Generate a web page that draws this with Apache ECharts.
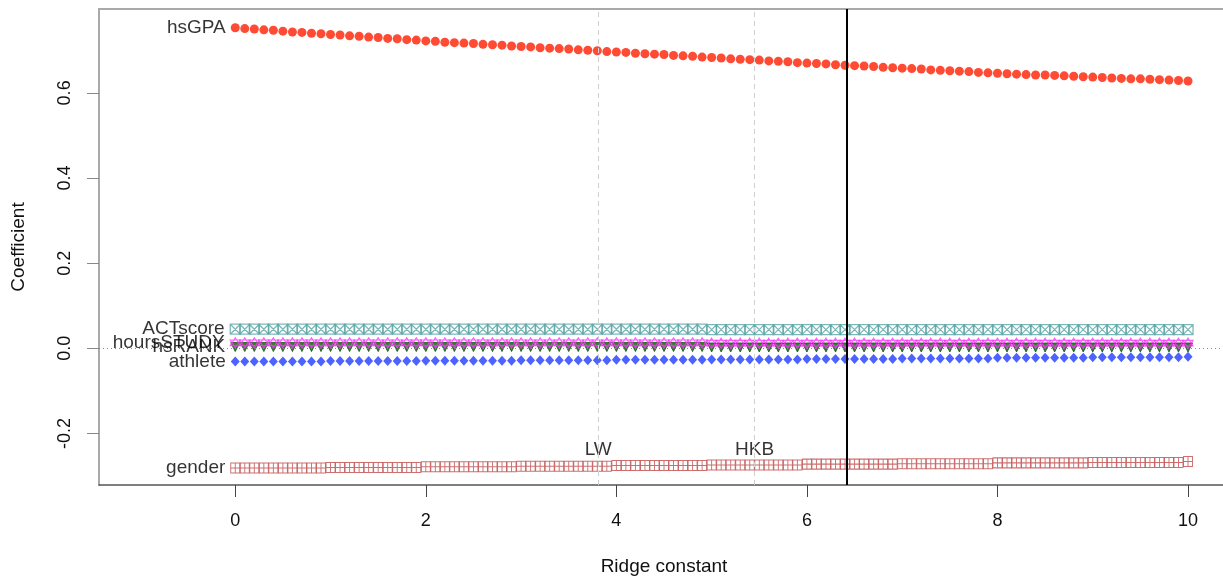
<!DOCTYPE html>
<html>
<head>
<meta charset="utf-8">
<script src="https://cdn.jsdelivr.net/npm/echarts@6/dist/echarts.min.js"></script>
<style>
  html, body { margin: 0; padding: 0; background: #ffffff; }
  #chart { width: 1223px; height: 577px; }
</style>
</head>
<body>
<div id="chart"></div>
<script>
// Ridge constants k = 0, 0.1, ..., 10
const ridgeK = [
  0, 0.1, 0.2, 0.3, 0.4, 0.5, 0.6, 0.7, 0.8, 0.9,
  1, 1.1, 1.2, 1.3, 1.4, 1.5, 1.6, 1.7, 1.8, 1.9,
  2, 2.1, 2.2, 2.3, 2.4, 2.5, 2.6, 2.7, 2.8, 2.9,
  3, 3.1, 3.2, 3.3, 3.4, 3.5, 3.6, 3.7, 3.8, 3.9,
  4, 4.1, 4.2, 4.3, 4.4, 4.5, 4.6, 4.7, 4.8, 4.9,
  5, 5.1, 5.2, 5.3, 5.4, 5.5, 5.6, 5.7, 5.8, 5.9,
  6, 6.1, 6.2, 6.3, 6.4, 6.5, 6.6, 6.7, 6.8, 6.9,
  7, 7.1, 7.2, 7.3, 7.4, 7.5, 7.6, 7.7, 7.8, 7.9,
  8, 8.1, 8.2, 8.3, 8.4, 8.5, 8.6, 8.7, 8.8, 8.9,
  9, 9.1, 9.2, 9.3, 9.4, 9.5, 9.6, 9.7, 9.8, 9.9,
  10
];

// Ridge coefficient traces
const hsGPA = [
  0.753, 0.751, 0.750, 0.748, 0.747, 0.745, 0.743, 0.742, 0.740, 0.739,
  0.737, 0.736, 0.734, 0.733, 0.731, 0.730, 0.728, 0.727, 0.725, 0.724,
  0.722, 0.721, 0.719, 0.718, 0.717, 0.716, 0.714, 0.713, 0.712, 0.710,
  0.709, 0.708, 0.706, 0.705, 0.704, 0.703, 0.701, 0.700, 0.699, 0.697,
  0.696, 0.695, 0.693, 0.692, 0.691, 0.690, 0.688, 0.687, 0.686, 0.684,
  0.683, 0.682, 0.680, 0.679, 0.678, 0.677, 0.675, 0.674, 0.673, 0.671,
  0.670, 0.669, 0.668, 0.666, 0.665, 0.664, 0.663, 0.662, 0.660, 0.659,
  0.658, 0.657, 0.656, 0.654, 0.653, 0.652, 0.651, 0.650, 0.648, 0.647,
  0.646, 0.645, 0.644, 0.643, 0.642, 0.642, 0.641, 0.640, 0.639, 0.638,
  0.637, 0.636, 0.635, 0.634, 0.633, 0.633, 0.632, 0.631, 0.630, 0.629,
  0.628
];
const ACTscore = [
  0.045, 0.045, 0.045, 0.045, 0.045, 0.045, 0.045, 0.045, 0.045, 0.045,
  0.045, 0.045, 0.045, 0.045, 0.045, 0.045, 0.045, 0.045, 0.045, 0.045,
  0.045, 0.045, 0.045, 0.045, 0.045, 0.045, 0.045, 0.045, 0.045, 0.045,
  0.045, 0.045, 0.045, 0.045, 0.045, 0.045, 0.045, 0.045, 0.045, 0.045,
  0.045, 0.045, 0.045, 0.045, 0.045, 0.045, 0.045, 0.045, 0.045, 0.045,
  0.044, 0.044, 0.044, 0.044, 0.044, 0.044, 0.044, 0.044, 0.044, 0.044,
  0.044, 0.044, 0.044, 0.044, 0.044, 0.044, 0.044, 0.044, 0.044, 0.044,
  0.044, 0.044, 0.044, 0.044, 0.044, 0.044, 0.044, 0.044, 0.044, 0.044,
  0.044, 0.044, 0.044, 0.044, 0.044, 0.044, 0.044, 0.044, 0.044, 0.044,
  0.044, 0.044, 0.044, 0.044, 0.044, 0.044, 0.044, 0.044, 0.044, 0.044,
  0.044
];
const hoursSTUDY = [
  0.013, 0.013, 0.013, 0.013, 0.013, 0.013, 0.013, 0.013, 0.013, 0.013,
  0.013, 0.013, 0.013, 0.013, 0.013, 0.013, 0.013, 0.013, 0.013, 0.013,
  0.013, 0.013, 0.013, 0.013, 0.013, 0.013, 0.013, 0.013, 0.013, 0.013,
  0.013, 0.013, 0.013, 0.013, 0.013, 0.013, 0.013, 0.013, 0.013, 0.013,
  0.013, 0.013, 0.013, 0.013, 0.013, 0.013, 0.013, 0.013, 0.013, 0.013,
  0.012, 0.012, 0.012, 0.012, 0.012, 0.012, 0.012, 0.012, 0.012, 0.012,
  0.012, 0.012, 0.012, 0.012, 0.012, 0.012, 0.012, 0.012, 0.012, 0.012,
  0.012, 0.012, 0.012, 0.012, 0.012, 0.012, 0.012, 0.012, 0.012, 0.012,
  0.012, 0.012, 0.012, 0.012, 0.012, 0.012, 0.012, 0.012, 0.012, 0.012,
  0.012, 0.012, 0.012, 0.012, 0.012, 0.012, 0.012, 0.012, 0.012, 0.012,
  0.012
];
const hsRANK = [
  0.003, 0.003, 0.003, 0.003, 0.003, 0.003, 0.003, 0.003, 0.003, 0.003,
  0.003, 0.003, 0.003, 0.003, 0.003, 0.003, 0.003, 0.003, 0.003, 0.003,
  0.003, 0.003, 0.003, 0.003, 0.003, 0.003, 0.003, 0.003, 0.003, 0.003,
  0.003, 0.003, 0.003, 0.003, 0.003, 0.003, 0.003, 0.003, 0.003, 0.003,
  0.003, 0.003, 0.003, 0.003, 0.003, 0.003, 0.003, 0.003, 0.003, 0.003,
  0.002, 0.002, 0.002, 0.002, 0.002, 0.002, 0.002, 0.002, 0.002, 0.002,
  0.002, 0.002, 0.002, 0.002, 0.002, 0.002, 0.002, 0.002, 0.002, 0.002,
  0.002, 0.002, 0.002, 0.002, 0.002, 0.002, 0.002, 0.002, 0.002, 0.002,
  0.002, 0.002, 0.002, 0.002, 0.002, 0.002, 0.002, 0.002, 0.002, 0.002,
  0.002, 0.002, 0.002, 0.002, 0.002, 0.002, 0.002, 0.002, 0.002, 0.002,
  0.002
];
const athlete = [
  -0.031, -0.031, -0.031, -0.031, -0.031, -0.031, -0.031, -0.031, -0.031, -0.031,
  -0.030, -0.030, -0.030, -0.030, -0.030, -0.030, -0.030, -0.030, -0.030, -0.030,
  -0.029, -0.029, -0.029, -0.029, -0.029, -0.029, -0.029, -0.029, -0.029, -0.029,
  -0.028, -0.028, -0.028, -0.028, -0.028, -0.028, -0.028, -0.028, -0.028, -0.028,
  -0.027, -0.027, -0.027, -0.027, -0.027, -0.027, -0.027, -0.027, -0.027, -0.027,
  -0.026, -0.026, -0.026, -0.026, -0.026, -0.026, -0.026, -0.026, -0.026, -0.026,
  -0.025, -0.025, -0.025, -0.025, -0.025, -0.025, -0.025, -0.025, -0.025, -0.025,
  -0.024, -0.024, -0.024, -0.024, -0.024, -0.024, -0.024, -0.024, -0.024, -0.024,
  -0.022, -0.022, -0.022, -0.022, -0.022, -0.022, -0.022, -0.022, -0.022, -0.022,
  -0.021, -0.021, -0.021, -0.021, -0.021, -0.021, -0.021, -0.021, -0.021, -0.021,
  -0.020
];
const gender = [
  -0.281, -0.281, -0.281, -0.281, -0.281, -0.281, -0.281, -0.281, -0.281, -0.281,
  -0.280, -0.280, -0.280, -0.280, -0.280, -0.280, -0.280, -0.280, -0.280, -0.280,
  -0.278, -0.278, -0.278, -0.278, -0.278, -0.278, -0.278, -0.278, -0.278, -0.278,
  -0.277, -0.277, -0.277, -0.277, -0.277, -0.277, -0.277, -0.277, -0.277, -0.277,
  -0.275, -0.275, -0.275, -0.275, -0.275, -0.275, -0.275, -0.275, -0.275, -0.275,
  -0.274, -0.274, -0.274, -0.274, -0.274, -0.274, -0.274, -0.274, -0.274, -0.274,
  -0.272, -0.272, -0.272, -0.272, -0.272, -0.272, -0.272, -0.272, -0.272, -0.272,
  -0.271, -0.271, -0.271, -0.271, -0.271, -0.271, -0.271, -0.271, -0.271, -0.271,
  -0.269, -0.269, -0.269, -0.269, -0.269, -0.269, -0.269, -0.269, -0.269, -0.269,
  -0.268, -0.268, -0.268, -0.268, -0.268, -0.268, -0.268, -0.268, -0.268, -0.268,
  -0.266
];

// Suggested ridge constants
const kLW = 3.81;
const kHKB = 5.45;
const kChosen = 6.42;
const estimatorNames = ['LW', 'HKB'];

// Axis ticks
const xTicks = [0, 2, 4, 6, 8, 10];
const yTicks = [-0.2, 0, 0.2, 0.4, 0.6];

const FONT = '"Liberation Sans", Arial, Helvetica, sans-serif';
const TEXT_SIZE = 19;
const TICK_SIZE = 18;

const SYM = {
  squareX: 'path://M1,1H19V19H1Z M1,1L19,19 M19,1L1,19',
  squarePlus: 'path://M1,1H19V19H1Z M10,1V19 M1,10H19',
  star: 'path://M10,0L19,15.6H1Z M10,20L1,4.4H19Z',
  triDown: 'path://M1,2H19L10,18Z'
};

const X_MIN = -1.43, X_MAX = 10.367;

function traceSeries(name, values, style) {
  const data = ridgeK.map((k, i) => [k, values[i]]);
  data[0] = {
    value: data[0],
    label: {
      show: true,
      position: 'left',
      distance: style.labelDistance || 5,
      formatter: name,
      color: '#000000',
      fontFamily: FONT,
      fontSize: TEXT_SIZE
    }
  };
  return {
    name: name,
    type: 'scatter',
    data: data,
    symbol: style.symbol,
    symbolSize: style.size,
    itemStyle: style.item,
    z: style.z || 3,
    silent: true,
    animation: false
  };
}

const chart = echarts.init(document.getElementById('chart'), null, { renderer: 'canvas' });

chart.setOption({
  backgroundColor: '#ffffff',
  animation: false,
  grid: { left: 99, right: 0, top: 9, bottom: 92, show: false },
  xAxis: [
    {
      type: 'value',
      min: X_MIN, max: X_MAX,
      position: 'bottom',
      splitLine: { show: false },
      axisLine: { show: true, onZero: false, lineStyle: { color: '#555', width: 1.5 } },
      axisTick: { show: true, customValues: xTicks, length: 12, lineStyle: { color: '#444', width: 1 } },
      axisLabel: {
        customValues: xTicks, margin: 27, color: '#111',
        fontFamily: FONT, fontSize: TICK_SIZE,
        formatter: v => String(v)
      }
    },
    {
      // top edge of the plotting box
      type: 'value',
      min: X_MIN, max: X_MAX,
      position: 'top',
      splitLine: { show: false },
      axisLine: { show: true, onZero: false, lineStyle: { color: '#a9a9a9', width: 2 } },
      axisTick: { show: false },
      axisLabel: { show: false }
    }
  ],
  yAxis: {
    type: 'value',
    min: -0.321, max: 0.797,
    splitLine: { show: false },
    axisLine: { show: true, onZero: false, lineStyle: { color: '#a9a9a9', width: 2 } },
    axisTick: { show: true, customValues: yTicks, length: 12, lineStyle: { color: '#888', width: 1 } },
    axisLabel: {
      customValues: yTicks, rotate: 90, margin: 25, color: '#111',
      fontFamily: FONT, fontSize: TICK_SIZE,
      formatter: v => v.toFixed(1)
    }
  },
  graphic: [
    {
      type: 'text', x: 664, y: 567,
      style: { text: 'Ridge constant', fill: '#111', font: TEXT_SIZE + 'px ' + FONT, textAlign: 'center', textVerticalAlign: 'middle' }
    },
    {
      type: 'text', x: 19, y: 247, rotation: Math.PI / 2,
      style: { text: 'Coefficient', fill: '#111', font: TEXT_SIZE + 'px ' + FONT, textAlign: 'center', textVerticalAlign: 'middle' }
    }
  ],
  series: [
    // reference lines behind the traces
    {
      type: 'line', data: [], silent: true, z: 1,
      markLine: {
        silent: true, symbol: 'none', animation: false,
        label: { show: false },
        data: [
          { xAxis: kLW, lineStyle: { color: '#cfcfcf', type: [5, 4], width: 1 } },
          { xAxis: kHKB, lineStyle: { color: '#cfcfcf', type: [5, 4], width: 1 } },
          { yAxis: 0, lineStyle: { color: '#8a8a8a', type: [1, 3], width: 1 } }
        ]
      }
    },
    traceSeries('gender', gender, {
      symbol: SYM.squarePlus, size: [9, 10],
      item: { color: 'rgba(0,0,0,0)', borderColor: '#bf4b4b', borderWidth: 1 }
    }),
    traceSeries('athlete', athlete, {
      symbol: 'diamond', size: [9, 10],
      item: { color: '#1f3cff' }
    }),
    traceSeries('hsRANK', hsRANK, {
      symbol: SYM.triDown, size: 9,
      item: { color: '#0c5a0c', borderColor: '#0c5a0c', borderWidth: 1 }
    }),
    traceSeries('hoursSTUDY', hoursSTUDY, {
      symbol: SYM.star, size: 10,
      item: { color: 'rgba(0,0,0,0)', borderColor: '#ff33ff', borderWidth: 1.2 }
    }),
    traceSeries('ACTscore', ACTscore, {
      symbol: SYM.squareX, size: 10,
      item: { color: 'rgba(0,0,0,0)', borderColor: '#5aa5a5', borderWidth: 1.3 }
    }),
    traceSeries('hsGPA', hsGPA, {
      symbol: 'circle', size: 9,
      item: { color: '#ff1e00' }
    }),
    // estimator labels
    {
      type: 'scatter', silent: true, z: 4,
      symbolSize: 1, itemStyle: { color: 'rgba(0,0,0,0)' },
      data: [
        { name: estimatorNames[0], value: [kLW, -0.239] },
        { name: estimatorNames[1], value: [kHKB, -0.239] }
      ],
      label: {
        show: true, position: 'inside', formatter: '{b}',
        color: '#000000', fontFamily: FONT, fontSize: TEXT_SIZE
      }
    },
    // chosen ridge constant
    {
      type: 'line', data: [], silent: true, z: 6,
      markLine: {
        silent: true, symbol: 'none', animation: false,
        label: { show: false },
        data: [{ xAxis: kChosen, lineStyle: { color: '#000000', type: 'solid', width: 2 } }]
      }
    }
  ]
});
</script>
</body>
</html>
